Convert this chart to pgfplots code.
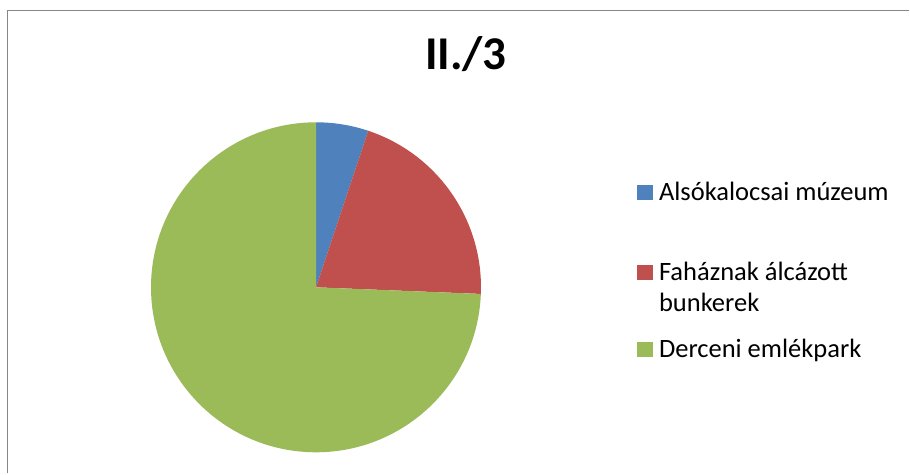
\documentclass[border=0pt]{standalone}
\usepackage{pgfplots}
\pgfplotsset{compat=1.18}
\usepackage{pgfplotstable}
\usepackage{fontspec}
\setmainfont{Carlito}
\definecolor{pieblue}{HTML}{4F81BD}
\definecolor{piered}{HTML}{C0504D}
\definecolor{piegreen}{HTML}{9BBB59}
\definecolor{framegray}{HTML}{878787}
\pgfplotsset{raised legend/.style={legend image code/.code={\fill[##1] (0pt,31.5pt) rectangle (15.5pt,46.5pt);}}}
\pgfplotstableread{
idx value
0 2
1 8
2 29
}\piedata
\pgfplotstablegetelem{0}{value}\of\piedata \edef\va{\pgfplotsretval}
\pgfplotstablegetelem{1}{value}\of\piedata \edef\vb{\pgfplotsretval}
\pgfplotstablegetelem{2}{value}\of\piedata \edef\vc{\pgfplotsretval}
\pgfmathsetmacro\total{\va+\vb+\vc}
\pgfmathsetmacro\aA{90}
\pgfmathsetmacro\aB{90-360*\va/\total}
\pgfmathsetmacro\aC{\aB-360*\vb/\total}
\pgfmathsetmacro\aD{\aC-360*\vc/\total}
\pgfmathsetmacro\xA{cos(\aA)}\pgfmathsetmacro\yA{sin(\aA)}
\pgfmathsetmacro\xB{cos(\aB)}\pgfmathsetmacro\yB{sin(\aB)}
\pgfmathsetmacro\xC{cos(\aC)}\pgfmathsetmacro\yC{sin(\aC)}
\begin{document}
\begin{tikzpicture}[x=1pt,y=1pt]
\useasboundingbox (0,0) rectangle (910,474);
\draw[color=framegray, line width=1.5pt] (7.5,0.75) -- (7.5,463.5) -- (909.25,463.5);
\begin{axis}[
  at={(151pt,21.7pt)}, anchor=south west,
  scale only axis, width=330pt, height=330pt,
  xmin=-1, xmax=1, ymin=-1, ymax=1,
  hide axis, clip=false,
  title={II./3},
  title style={at={(axis description cs:0.954,1.1433)}, anchor=base, inner sep=0pt,
    font=\bfseries\fontsize{47}{50}\selectfont},
  legend image code/.code={\fill[#1] (0pt,0.5pt) rectangle (15.5pt,15.5pt);},
  legend style={at={(axis cs:1.9455,0.6624)}, anchor=north west, draw=none, fill=none,
    inner sep=0pt, outer sep=0pt, row sep=0pt, column sep=6.5pt,
    cells={anchor=base west},
    nodes={inner sep=0pt, outer sep=0pt, align=left, font=\fontsize{26.5}{31}\selectfont}},
]
\addplot[fill=pieblue, draw=none] coordinates {(0,0) (\xA,\yA)} arc[start angle=\aA, end angle=\aB, radius=165pt] -- cycle;
\addlegendentry{\rule{0pt}{22pt}Alsókalocsai múzeum}
\addplot[fill=piered, draw=none, raised legend]
  coordinates {(0,0) (\xB,\yB)} arc[start angle=\aB, end angle=\aC, radius=165pt] -- cycle;
\addlegendentry{\rule{0pt}{79pt}Faháznak álcázott\\bunkerek}
\addplot[fill=piegreen, draw=none] coordinates {(0,0) (\xC,\yC)} arc[start angle=\aC, end angle=\aD, radius=165pt] -- cycle;
\addlegendentry{\rule{0pt}{44pt}Derceni emlékpark}
\end{axis}
\end{tikzpicture}
\end{document}
